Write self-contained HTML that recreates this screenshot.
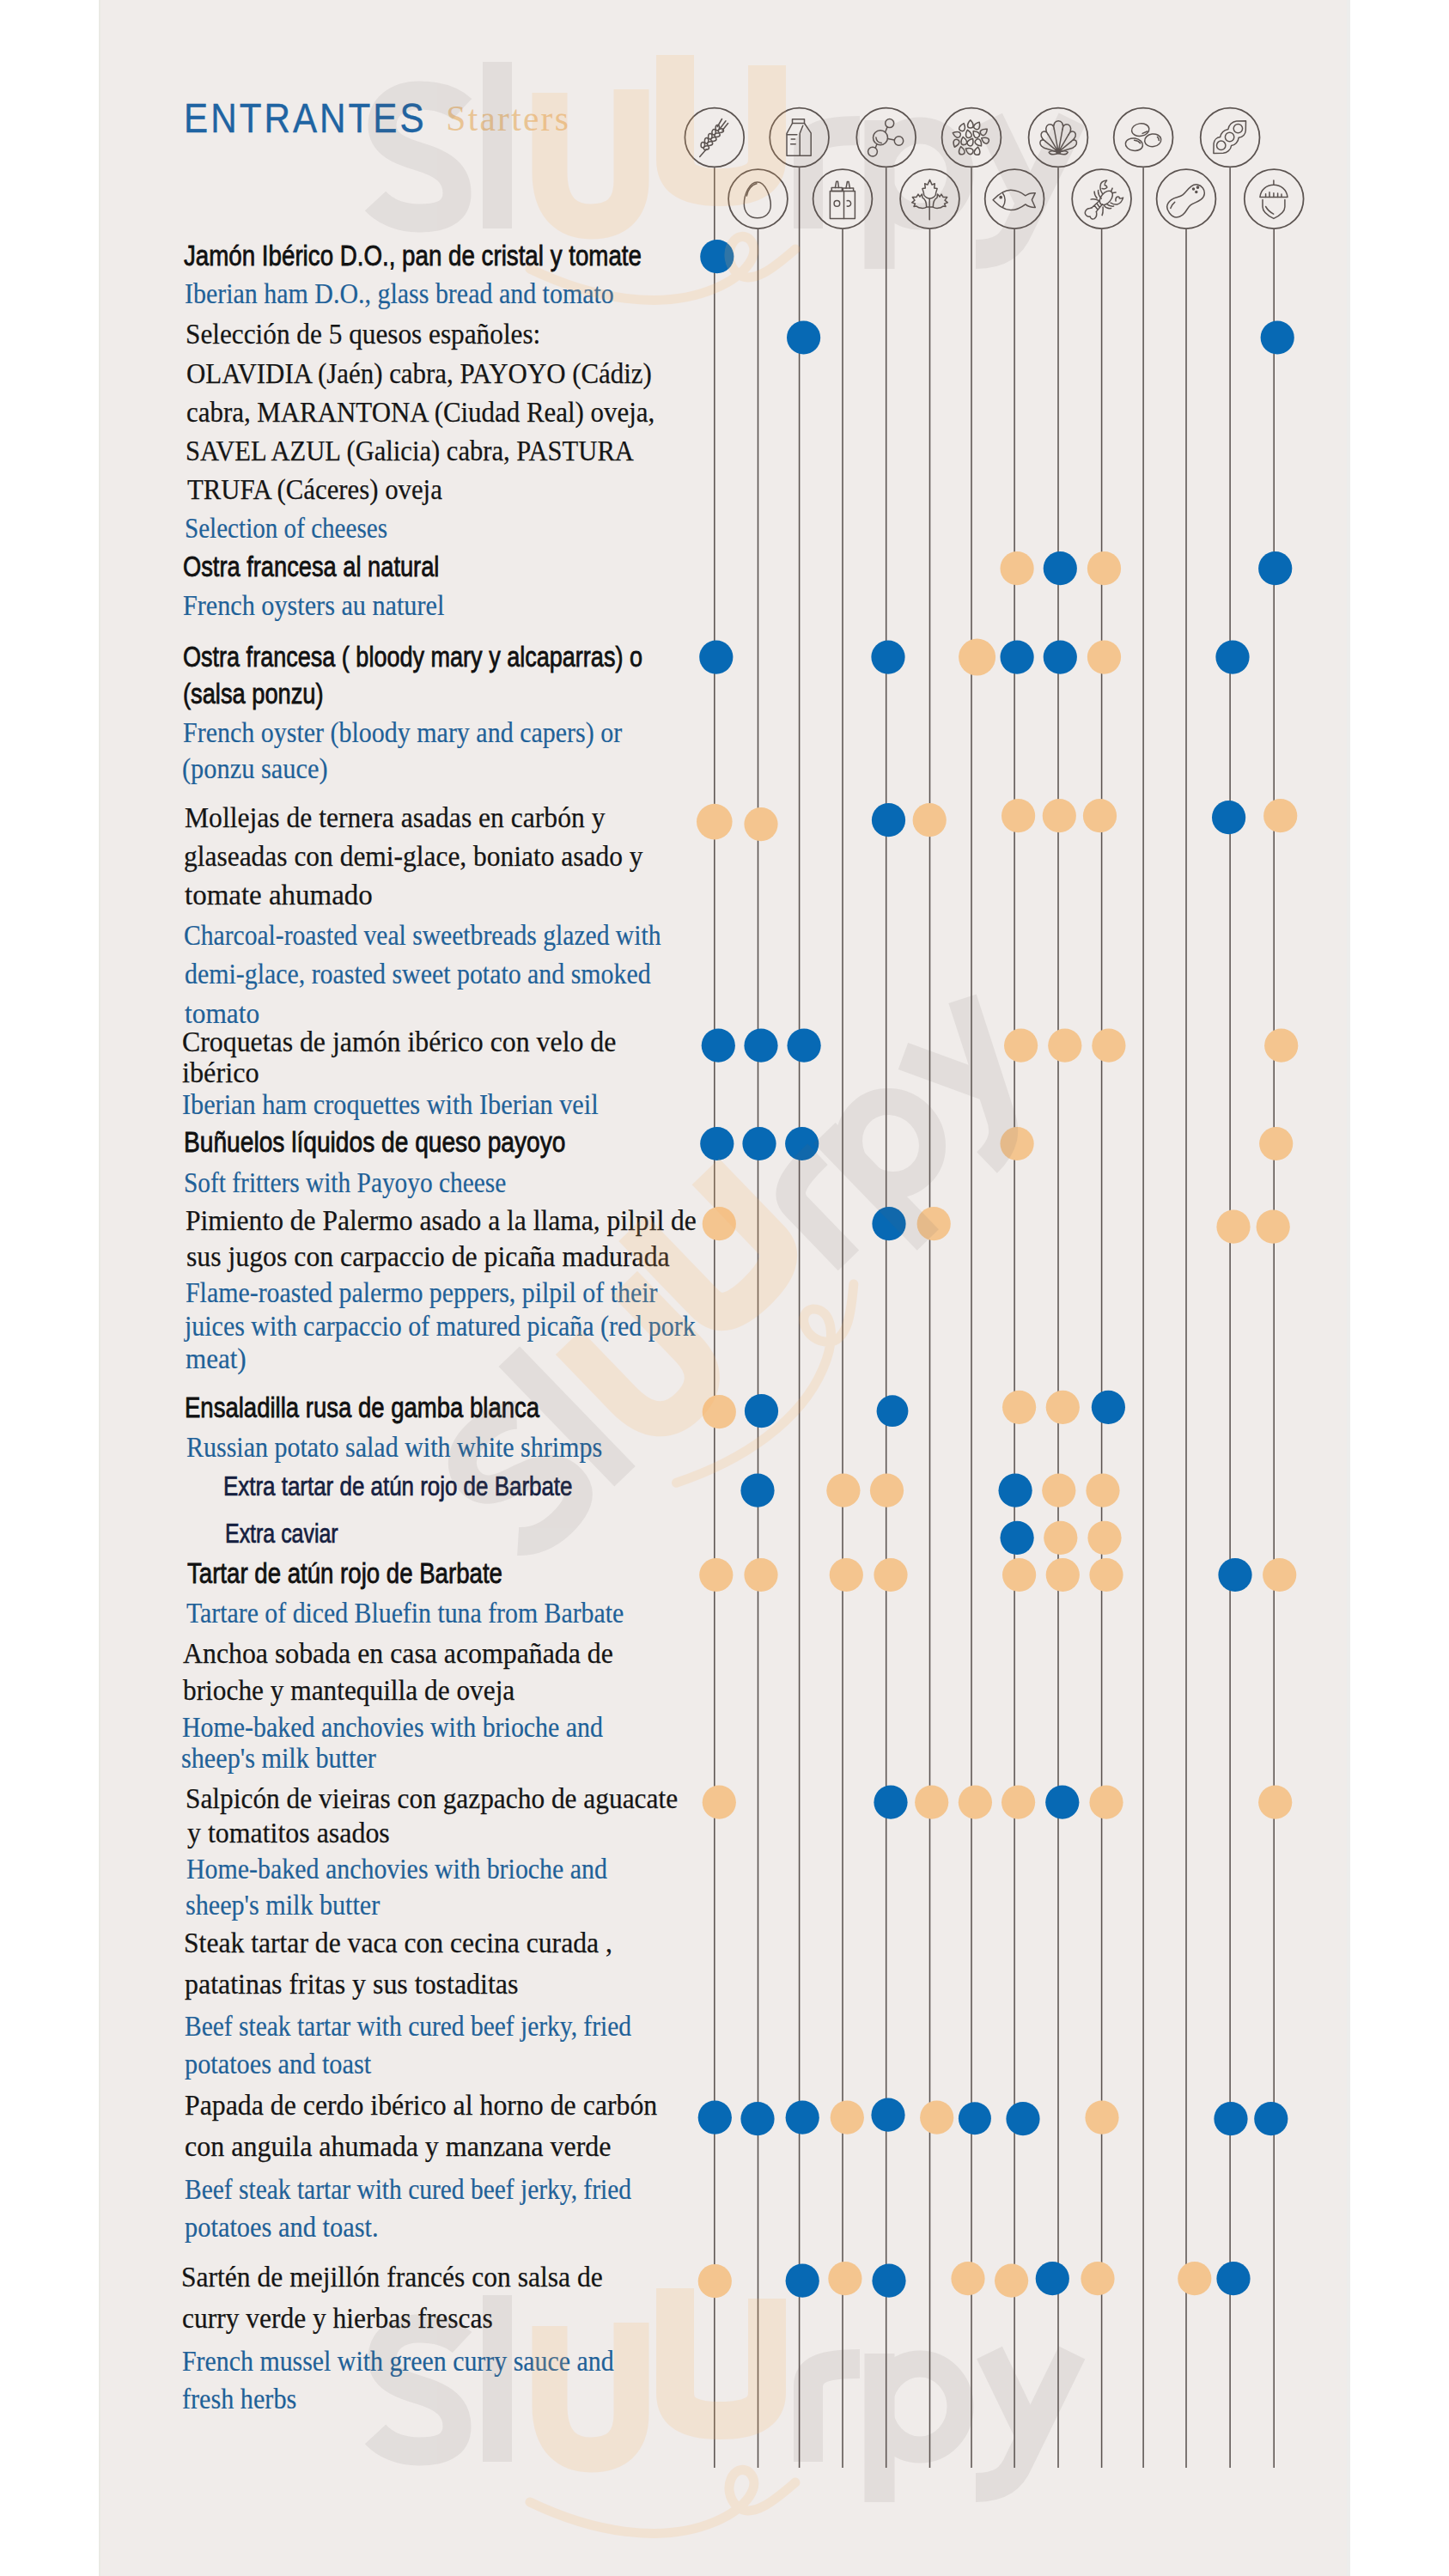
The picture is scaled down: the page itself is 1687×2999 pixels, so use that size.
<!DOCTYPE html><html><head><meta charset="utf-8"><style>
html,body{margin:0;padding:0;background:#fff;}
body{width:1687px;height:2999px;position:relative;overflow:hidden;}
#panel{position:absolute;left:115px;top:0;width:1457px;height:2999px;background:#f0ecea;}
.t{position:absolute;white-space:nowrap;transform-origin:0 0;}
.csans{font-family:"Liberation Sans",sans-serif;font-size:33.5px;line-height:33.5px;color:#111111;-webkit-text-stroke:0.8px #111111;}
.serif{font-family:"Liberation Serif",serif;font-size:34.0px;line-height:34.0px;color:#151515;-webkit-text-stroke:0.25px #151515;}
.bserif{font-family:"Liberation Serif",serif;font-size:33.5px;line-height:33.5px;color:#1f6198;-webkit-text-stroke:0.2px #1f6198;}
.navy{font-family:"Liberation Sans",sans-serif;font-size:31.0px;line-height:31.0px;color:#152040;-webkit-text-stroke:0.7px #152040;}
.title{font-family:"Liberation Sans",sans-serif;font-size:49.0px;line-height:49.0px;color:#1f64a2;-webkit-text-stroke:0.4px #1f64a2;}
.starters{font-family:"Liberation Serif",serif;font-size:41.5px;line-height:41.5px;color:#e9c494;}
</style></head><body><div id="panel"></div><div style="position:absolute;left:115px;top:0;width:2px;height:2999px;background:#e9e9e4"></div><div style="position:absolute;left:1568px;top:0;width:4px;height:2999px;background:#ededec"></div>
<svg width="1687" height="2999" style="position:absolute;left:0;top:0">
<g stroke="#5b5350" stroke-width="1.55" fill="none">
<line x1="831.8" y1="195.2" x2="831.8" y2="2873"/>
<line x1="882.5" y1="266.8" x2="882.5" y2="2873"/>
<line x1="930.6" y1="195.2" x2="930.6" y2="2873"/>
<line x1="981.0" y1="266.8" x2="981.0" y2="2873"/>
<line x1="1031.7" y1="195.2" x2="1031.7" y2="2873"/>
<line x1="1082.5" y1="266.8" x2="1082.5" y2="2873"/>
<line x1="1131.0" y1="195.2" x2="1131.0" y2="2873"/>
<line x1="1181.1" y1="266.8" x2="1181.1" y2="2873"/>
<line x1="1232.0" y1="195.2" x2="1232.0" y2="2873"/>
<line x1="1282.6" y1="266.8" x2="1282.6" y2="2873"/>
<line x1="1331.1" y1="195.2" x2="1331.1" y2="2873"/>
<line x1="1381.0" y1="266.8" x2="1381.0" y2="2873"/>
<line x1="1432.1" y1="195.2" x2="1432.1" y2="2873"/>
<line x1="1483.2" y1="266.8" x2="1483.2" y2="2873"/>
</g>
<g stroke="#5b5350" fill="none">
<circle cx="831.8" cy="160.0" r="34.4" stroke-width="1.75"/>
<g transform="translate(831.8,160.0)" stroke-width="1.5" stroke-linejoin="round" stroke-linecap="round"><path d="M-17.1,22.4 L-9.5,13.8"/><ellipse cx="-13.5" cy="8.8" rx="3.2" ry="2.2" transform="rotate(-85 -13.5 8.8)"/><ellipse cx="-9.5" cy="12.2" rx="3.2" ry="2.2" transform="rotate(-15 -9.5 12.2)"/><ellipse cx="-9.2" cy="3.8" rx="3.2" ry="2.2" transform="rotate(-85 -9.2 3.8)"/><ellipse cx="-5.3" cy="7.2" rx="3.2" ry="2.2" transform="rotate(-15 -5.3 7.2)"/><ellipse cx="-5.0" cy="-1.2" rx="3.2" ry="2.2" transform="rotate(-85 -5.0 -1.2)"/><ellipse cx="-1.0" cy="2.2" rx="3.2" ry="2.2" transform="rotate(-15 -1.0 2.2)"/><ellipse cx="-0.7" cy="-6.2" rx="3.2" ry="2.2" transform="rotate(-85 -0.7 -6.2)"/><ellipse cx="3.2" cy="-2.8" rx="3.2" ry="2.2" transform="rotate(-15 3.2 -2.8)"/><ellipse cx="3.5" cy="-11.2" rx="3.2" ry="2.2" transform="rotate(-85 3.5 -11.2)"/><ellipse cx="7.5" cy="-7.8" rx="3.2" ry="2.2" transform="rotate(-15 7.5 -7.8)"/><path d="M3.5,-12.5 L8.7,-21.5"/><path d="M6.8,-10.8 L13.2,-19.2"/><path d="M9.2,-8.2 L15.8,-16.5"/></g>
<circle cx="882.5" cy="231.6" r="34.4" stroke-width="1.75"/>
<g transform="translate(882.5,231.6)" stroke-width="1.5" stroke-linejoin="round" stroke-linecap="round"><path d="M-0.7,-19.5 C8.5,-19.5 14.8,-3 14.8,7.5 C14.8,17 8,22.1 -0.7,22.1 C-10,22.1 -16.2,16 -16.2,6 C-16.2,-5 -10,-19.5 -0.7,-19.5 Z"/><path d="M-13.2,-3.5 C-12,-11 -7,-16.8 -1.5,-17.8"/></g>
<circle cx="930.6" cy="160.0" r="34.4" stroke-width="1.75"/>
<g transform="translate(930.6,160.0)" stroke-width="1.5" stroke-linejoin="round" stroke-linecap="round"><rect x="-8.1" y="-21.3" width="14" height="4.8"/><path d="M-8.1,-16.5 L-14.6,-4.7 L-14.6,21.2 L13.6,21.2 L13.6,-5.2 L5.9,-16.5"/><path d="M0.6,21.2 L0.6,-4.7 L4.2,-13.8"/><path d="M-14.3,-3.3 L-2.7,-3.3"/><path d="M-9.4,2.1 L-5,2.1"/><path d="M-10,7.8 L-4.4,7.8"/></g>
<circle cx="981.0" cy="231.6" r="34.4" stroke-width="1.75"/>
<g transform="translate(981.0,231.6)" stroke-width="1.5" stroke-linejoin="round" stroke-linecap="round"><rect x="-14.6" y="-9.2" width="16.1" height="32.1"/><rect x="-12.8" y="-13.1" width="12.2" height="3.9"/><path d="M-8.6,-13.1 L-7.3,-20.3 L-5.5,-20.3 L-4.5,-13.1"/><path d="M1.5,-9.2 L14.4,-9.2 L14.4,22.9 L1.5,22.9"/><path d="M0.4,-9.2 L0.4,-12.5 L12.6,-12.5 L12.6,-9.2"/><path d="M4,-12.5 L5.4,-20.1 L7,-20.1 L8.5,-12.5"/><circle cx="-6.6" cy="5.3" r="3.3"/><path d="M5.2,2.2 A3.3,3.3 0 1 1 5.2,8.4"/></g>
<circle cx="1031.7" cy="160.0" r="34.4" stroke-width="1.75"/>
<g transform="translate(1031.7,160.0)" stroke-width="1.5" stroke-linejoin="round" stroke-linecap="round"><circle cx="-6.7" cy="0.2" r="8.5"/><circle cx="4" cy="-16.4" r="5"/><circle cx="14.8" cy="4" r="5.2"/><circle cx="-15.7" cy="16.6" r="5.4"/><path d="M-1,-6.2 L1.3,-12"/><path d="M1.9,1.5 L9.6,3.1"/><path d="M-10.8,7.8 L-12.5,12.2"/><path d="M-11.8,0 C-11.5,3.5 -9,6 -5.5,6.4"/></g>
<circle cx="1082.5" cy="231.6" r="34.4" stroke-width="1.75"/>
<g transform="translate(1082.5,231.6)" stroke-width="1.5" stroke-linejoin="round" stroke-linecap="round"><path d="M0,-22.2 L2.6,-16.5 L5.8,-17.8 L5.2,-12.5 L8.6,-12 L7.2,-7.5 C7.5,-3.5 4,-0.8 0,-0.4 C-4,-0.8 -7.5,-3.5 -7.2,-7.5 L-8.6,-12 L-5.2,-12.5 L-5.8,-17.8 L-2.6,-16.5 Z"/><path d="M-3.8,9.5 C-7,11.5 -12,11.2 -15.5,8.5 L-18.5,8.8 L-17,5.5 L-20.8,4.2 L-17.5,1.5 L-20.2,-2 L-15.5,-2.2 L-13.5,-5.5 L-11.5,-2.5 L-9,-5.5 L-8.5,-1.5 C-5.5,0 -3.8,3 -3.8,9.5 Z"/><path transform="scale(-1,1)" d="M-3.8,9.5 C-7,11.5 -12,11.2 -15.5,8.5 L-18.5,8.8 L-17,5.5 L-20.8,4.2 L-17.5,1.5 L-20.2,-2 L-15.5,-2.2 L-13.5,-5.5 L-11.5,-2.5 L-9,-5.5 L-8.5,-1.5 C-5.5,0 -3.8,3 -3.8,9.5 Z"/><path d="M-0.3,-0.4 L-0.3,24.2"/><path d="M-0.3,9.5 L-3.8,9.5"/><path d="M-0.3,9.5 L3.8,9.5"/></g>
<circle cx="1131.0" cy="160.0" r="34.4" stroke-width="1.75"/>
<g transform="translate(1131.0,160.0)" stroke-width="1.5" stroke-linejoin="round" stroke-linecap="round"><path transform="translate(-10.5,-11.9) rotate(20)" d="M0,-4.8 C2.2,-2.5 3.3,-0.5 3.3,1.4 C3.3,3.4 1.8,4.5 0,4.5 C-1.8,4.5 -3.3,3.4 -3.3,1.4 C-3.3,-0.5 -2.2,-2.5 0,-4.8 Z"/><path transform="translate(-1.2,-15.5) rotate(0)" d="M0,-4.8 C2.2,-2.5 3.3,-0.5 3.3,1.4 C3.3,3.4 1.8,4.5 0,4.5 C-1.8,4.5 -3.3,3.4 -3.3,1.4 C-3.3,-0.5 -2.2,-2.5 0,-4.8 Z"/><path transform="translate(6.8,-13.7) rotate(30)" d="M0,-4.8 C2.2,-2.5 3.3,-0.5 3.3,1.4 C3.3,3.4 1.8,4.5 0,4.5 C-1.8,4.5 -3.3,3.4 -3.3,1.4 C-3.3,-0.5 -2.2,-2.5 0,-4.8 Z"/><path transform="translate(-17.2,-3.6) rotate(-70)" d="M0,-4.8 C2.2,-2.5 3.3,-0.5 3.3,1.4 C3.3,3.4 1.8,4.5 0,4.5 C-1.8,4.5 -3.3,3.4 -3.3,1.4 C-3.3,-0.5 -2.2,-2.5 0,-4.8 Z"/><path transform="translate(-3.5,-4.1) rotate(-15)" d="M0,-4.8 C2.2,-2.5 3.3,-0.5 3.3,1.4 C3.3,3.4 1.8,4.5 0,4.5 C-1.8,4.5 -3.3,3.4 -3.3,1.4 C-3.3,-0.5 -2.2,-2.5 0,-4.8 Z"/><path transform="translate(5.3,-3.9) rotate(-40)" d="M0,-4.8 C2.2,-2.5 3.3,-0.5 3.3,1.4 C3.3,3.4 1.8,4.5 0,4.5 C-1.8,4.5 -3.3,3.4 -3.3,1.4 C-3.3,-0.5 -2.2,-2.5 0,-4.8 Z"/><path transform="translate(14.6,-6.7) rotate(50)" d="M0,-4.8 C2.2,-2.5 3.3,-0.5 3.3,1.4 C3.3,3.4 1.8,4.5 0,4.5 C-1.8,4.5 -3.3,3.4 -3.3,1.4 C-3.3,-0.5 -2.2,-2.5 0,-4.8 Z"/><path transform="translate(-18,6.7) rotate(200)" d="M0,-4.8 C2.2,-2.5 3.3,-0.5 3.3,1.4 C3.3,3.4 1.8,4.5 0,4.5 C-1.8,4.5 -3.3,3.4 -3.3,1.4 C-3.3,-0.5 -2.2,-2.5 0,-4.8 Z"/><path transform="translate(-9,4.1) rotate(-10)" d="M0,-4.8 C2.2,-2.5 3.3,-0.5 3.3,1.4 C3.3,3.4 1.8,4.5 0,4.5 C-1.8,4.5 -3.3,3.4 -3.3,1.4 C-3.3,-0.5 -2.2,-2.5 0,-4.8 Z"/><path transform="translate(-0.9,5.4) rotate(30)" d="M0,-4.8 C2.2,-2.5 3.3,-0.5 3.3,1.4 C3.3,3.4 1.8,4.5 0,4.5 C-1.8,4.5 -3.3,3.4 -3.3,1.4 C-3.3,-0.5 -2.2,-2.5 0,-4.8 Z"/><path transform="translate(8.4,6.2) rotate(140)" d="M0,-4.8 C2.2,-2.5 3.3,-0.5 3.3,1.4 C3.3,3.4 1.8,4.5 0,4.5 C-1.8,4.5 -3.3,3.4 -3.3,1.4 C-3.3,-0.5 -2.2,-2.5 0,-4.8 Z"/><path transform="translate(15.9,3.1) rotate(-60)" d="M0,-4.8 C2.2,-2.5 3.3,-0.5 3.3,1.4 C3.3,3.4 1.8,4.5 0,4.5 C-1.8,4.5 -3.3,3.4 -3.3,1.4 C-3.3,-0.5 -2.2,-2.5 0,-4.8 Z"/><path transform="translate(-11.5,15.3) rotate(-10)" d="M0,-4.8 C2.2,-2.5 3.3,-0.5 3.3,1.4 C3.3,3.4 1.8,4.5 0,4.5 C-1.8,4.5 -3.3,3.4 -3.3,1.4 C-3.3,-0.5 -2.2,-2.5 0,-4.8 Z"/><path transform="translate(-2.5,15.5) rotate(-60)" d="M0,-4.8 C2.2,-2.5 3.3,-0.5 3.3,1.4 C3.3,3.4 1.8,4.5 0,4.5 C-1.8,4.5 -3.3,3.4 -3.3,1.4 C-3.3,-0.5 -2.2,-2.5 0,-4.8 Z"/><path transform="translate(6.8,15.8) rotate(10)" d="M0,-4.8 C2.2,-2.5 3.3,-0.5 3.3,1.4 C3.3,3.4 1.8,4.5 0,4.5 C-1.8,4.5 -3.3,3.4 -3.3,1.4 C-3.3,-0.5 -2.2,-2.5 0,-4.8 Z"/></g>
<circle cx="1181.1" cy="231.6" r="34.4" stroke-width="1.75"/>
<g transform="translate(1181.1,231.6)" stroke-width="1.5" stroke-linejoin="round" stroke-linecap="round"><path d="M-25,1.1 C-18,-6 -12,-10.3 -4.5,-10.3 C3,-10.3 8,-7.5 12.8,-3.8 C16,-6.5 20,-7.2 24.2,-6.9 L20.3,1.1 L24.2,9.9 C20,10 16,9 12.8,6.3 C8,10 3,13 -4.5,13 C-12,13 -18,8 -25,1.1 Z"/><path d="M-13.9,-7.1 C-11.6,-4 -11,-1.5 -11,1.1 C-11,4 -11.8,6.8 -13.6,9.4"/><circle cx="-15.9" cy="-1.9" r="1.1" fill="#5b5350"/></g>
<circle cx="1232.0" cy="160.0" r="34.4" stroke-width="1.75"/>
<g transform="translate(1232.0,160.0)" stroke-width="1.5" stroke-linejoin="round" stroke-linecap="round"><path d="M0.2,17.1 L-12.30,13.52 C-26.66,10.40 -20.47,-1.32 -14.88,4.58 C-26.18,-3.29 -15.60,-12.25 -11.71,-3.28 C-20.03,-14.90 -5.26,-20.36 -4.59,-9.27 C-8.47,-22.65 8.87,-22.65 4.99,-9.27 C5.66,-20.36 20.43,-14.90 12.11,-3.28 C16.00,-12.25 26.58,-3.29 15.28,4.58 C20.87,-1.32 27.06,10.40 12.70,13.52 L0.2,17.1 Z"/><path d="M0.2,17.1 L-14.88,4.58 M0.2,17.1 L-11.71,-3.28 M0.2,17.1 L-4.59,-9.27 M0.2,17.1 L4.99,-9.27 M0.2,17.1 L12.11,-3.28 M0.2,17.1 L15.28,4.58 "/><path d="M-2.5,16.5 C-6,15.5 -9.5,15.8 -10.8,17.3 C-9.5,19.6 -5.5,20.2 -1.5,19 M2.9,16.5 C6.4,15.5 9.9,15.8 11.2,17.3 C9.9,19.6 5.9,20.2 1.9,19"/><ellipse cx="0.2" cy="16.3" rx="2.3" ry="2.8" fill="#5b5350"/></g>
<circle cx="1282.6" cy="231.6" r="34.4" stroke-width="1.75"/>
<g transform="translate(1282.6,231.6)" stroke-width="1.5" stroke-linejoin="round" stroke-linecap="round"><ellipse cx="5.2" cy="-1.2" rx="9.5" ry="5.8" transform="rotate(-50 5.2 -1.2)"/><path d="M-2.6,2.2 L-11.4,10.1 M0.8,6.2 L-6.2,14.8 M-5.6,5.2 L-2.4,9.8 M-8.4,7.6 L-4.6,12.4"/><path d="M-6.2,14.8 C-5.5,18 -6,21.5 -8.5,23 C-11,24.2 -13,22.5 -13.5,20.5 C-16,21 -19,19.5 -19.3,16.5 C-19.5,13.5 -17,11 -14,10.8 C-13,10.6 -12,10.3 -11.4,10.1"/><path d="M1,-6 C-1,-9 -2,-13 -1.5,-15.5 C-1.2,-19 1,-21 6,-21.5 C4.5,-19.5 3,-18 3.5,-16 C5,-15.5 6,-15.5 6.3,-13.5 C5,-11.5 2.5,-11.5 0.5,-12"/><path d="M10.5,4.5 C13,6 15.5,6.8 18,6.3 C21.5,5.5 24,2 25,-1.5 C23,-0.5 21.5,0 20.5,-1 C21,-2.5 19.5,-3 18,-2.5 C16.5,-1.5 16,0.5 16.5,2.5"/><path d="M-3,2 C-6,0.5 -9,-0.5 -12.5,0.5 M-0.5,-0.5 C-3,-3.5 -4.5,-6 -4,-10 M-5.5,-1 C-7.5,-3 -8.5,-5.5 -8.5,-8.5"/><path d="M3,8 C5,10.5 8,11.5 11,11 M1.5,9.5 C1.5,13 2,15.5 0.5,19 M6,6 C8.5,8 11,9 14,8.5"/><path d="M11,-9 L12.5,-12.5 M13,-7 L16.5,-7.5"/></g>
<circle cx="1331.1" cy="160.0" r="34.4" stroke-width="1.75"/>
<g transform="translate(1331.1,160.0)" stroke-width="1.5" stroke-linejoin="round" stroke-linecap="round"><ellipse cx="-3.4" cy="-8.9" rx="10.2" ry="7.3" transform="rotate(-8 -3.4 -8.9)"/><ellipse cx="-10.7" cy="8.2" rx="10.1" ry="7.2" transform="rotate(8 -10.7 8.2)"/><ellipse cx="11.1" cy="3.3" rx="9.6" ry="7.3" transform="rotate(-8 11.1 3.3)"/><path d="M-1,-4.6 L4.5,-7"/><path d="M-10.5,3.3 C-7.5,3.6 -5,4.7 -3.5,6.8"/><path d="M16.4,-0.6 C17.7,0.6 18.2,2 18.2,3.5"/></g>
<circle cx="1381.0" cy="231.6" r="34.4" stroke-width="1.75"/>
<g transform="translate(1381.0,231.6)" stroke-width="1.5" stroke-linejoin="round" stroke-linecap="round"><path transform="translate(0.5,1.3) rotate(-37)" d="M-25,0 C-25,-8 -20,-11 -14,-11 C-8,-11 -5,-7.5 0,-7.5 C5,-7.5 8,-9.5 14,-9.5 C20,-9.5 23.5,-5 23.5,0 C23.5,5 20,9.5 14,9.5 C8,9.5 5,7.5 0,7.5 C-5,7.5 -8,11 -14,11 C-20,11 -25,8 -25,0 Z"/><path d="M-13.3,3.7 C-15.5,5.5 -17.2,8 -18.2,10.8"/><circle cx="8.5" cy="-11.5" r="1" fill="#5b5350"/><circle cx="13.5" cy="-13.5" r="1.1" fill="#5b5350"/><circle cx="11.8" cy="-8.2" r="1" fill="#5b5350"/></g>
<circle cx="1432.1" cy="160.0" r="34.4" stroke-width="1.75"/>
<g transform="translate(1432.1,160.0)" stroke-width="1.5" stroke-linejoin="round" stroke-linecap="round"><path d="M-19.2,18.4 L-19,7 C-18.6,3 -15.5,0 -11.5,-0.5 C-10.5,-5 -7,-8.5 -2.2,-9.5 C-1.5,-14.5 2.5,-18.5 7.5,-19 L18.4,-19.2 L18.2,-8 C17.8,-3.5 14.8,-0.5 10,0.3 C9.5,5 6,8.8 1.5,9.5 C0.8,14.5 -3.5,18 -8,18.3 Z"/><circle cx="-10.4" cy="9.3" r="5.2"/><circle cx="-0.5" cy="-0.5" r="5.2"/><circle cx="9.3" cy="-10.4" r="5.2"/></g>
<circle cx="1483.2" cy="231.6" r="34.4" stroke-width="1.75"/>
<g transform="translate(1483.2,231.6)" stroke-width="1.5" stroke-linejoin="round" stroke-linecap="round"><path d="M-0.3,-21.7 L-0.3,-16.3"/><path d="M-16.3,-2 C-15.5,-11 -8.5,-16.3 -0.3,-16.3 C8,-16.3 15,-11 15.8,-2 Z"/><path d="M-9.6,-2 L-9.6,-5.8 M-5.2,-2 L-5.2,-7.8 M-0.3,-2 L-0.3,-6.8 M4.4,-2 L4.4,-6.5 M8.8,-2 L8.8,-5.5"/><path d="M-13.2,0.8 L-13.2,9.1 C-13.2,15 -7,19.5 -0.3,22.8 C6.5,19.5 12.7,15 12.7,9.1 L12.7,0.8"/><path d="M-9.6,8.9 C-7.5,12.5 -4.5,15.5 -0.5,17.5"/></g>
</g>
<circle cx="834.8" cy="298.7" r="19.6" fill="#0769b4"/>
<circle cx="935.6" cy="393" r="19.6" fill="#0769b4"/>
<circle cx="1487.2" cy="393" r="19.6" fill="#0769b4"/>
<circle cx="1184.1" cy="661.7" r="19.6" fill="#f4c58f"/>
<circle cx="1234.3" cy="661.7" r="19.6" fill="#0769b4"/>
<circle cx="1285.5" cy="661.7" r="19.6" fill="#f4c58f"/>
<circle cx="1484.7" cy="661.7" r="19.6" fill="#0769b4"/>
<circle cx="833.8" cy="765.1" r="19.6" fill="#0769b4"/>
<circle cx="1034" cy="765.1" r="19.6" fill="#0769b4"/>
<circle cx="1137.6" cy="765.1" r="21.5" fill="#f4c58f"/>
<circle cx="1184.1" cy="765.1" r="19.6" fill="#0769b4"/>
<circle cx="1234.3" cy="765.1" r="19.6" fill="#0769b4"/>
<circle cx="1285.5" cy="765.1" r="19.6" fill="#f4c58f"/>
<circle cx="1435" cy="765.1" r="19.6" fill="#0769b4"/>
<circle cx="831.8" cy="956.6" r="20.8" fill="#f4c58f"/>
<circle cx="886" cy="959.6" r="19.6" fill="#f4c58f"/>
<circle cx="1034.5" cy="954.7" r="19.6" fill="#0769b4"/>
<circle cx="1082.2" cy="954.7" r="19.6" fill="#f4c58f"/>
<circle cx="1185.6" cy="949.7" r="19.6" fill="#f4c58f"/>
<circle cx="1233.3" cy="949.7" r="19.6" fill="#f4c58f"/>
<circle cx="1280.5" cy="949.7" r="19.6" fill="#f4c58f"/>
<circle cx="1430.6" cy="951.7" r="19.6" fill="#0769b4"/>
<circle cx="1490.7" cy="949.7" r="19.6" fill="#f4c58f"/>
<circle cx="836.3" cy="1217.2" r="19.6" fill="#0769b4"/>
<circle cx="886" cy="1217.2" r="19.6" fill="#0769b4"/>
<circle cx="936.1" cy="1217.2" r="19.6" fill="#0769b4"/>
<circle cx="1188.6" cy="1217.2" r="19.6" fill="#f4c58f"/>
<circle cx="1239.8" cy="1217.2" r="19.6" fill="#f4c58f"/>
<circle cx="1290.9" cy="1217.2" r="19.6" fill="#f4c58f"/>
<circle cx="1491.7" cy="1217.2" r="19.6" fill="#f4c58f"/>
<circle cx="834.8" cy="1331.5" r="19.6" fill="#0769b4"/>
<circle cx="884" cy="1331.5" r="19.6" fill="#0769b4"/>
<circle cx="933.7" cy="1331.5" r="19.6" fill="#0769b4"/>
<circle cx="1184.1" cy="1331.5" r="19.6" fill="#f4c58f"/>
<circle cx="1485.7" cy="1331.5" r="19.6" fill="#f4c58f"/>
<circle cx="837.3" cy="1424.7" r="19.6" fill="#f4c58f"/>
<circle cx="1035" cy="1424.7" r="19.6" fill="#0769b4"/>
<circle cx="1087.2" cy="1424.7" r="19.6" fill="#f4c58f"/>
<circle cx="1436" cy="1428.2" r="19.6" fill="#f4c58f"/>
<circle cx="1482.2" cy="1428.2" r="19.6" fill="#f4c58f"/>
<circle cx="837.3" cy="1643.7" r="19.6" fill="#f4c58f"/>
<circle cx="886.5" cy="1642.7" r="19.6" fill="#0769b4"/>
<circle cx="1039" cy="1642.7" r="18.4" fill="#0769b4"/>
<circle cx="1186.6" cy="1638.3" r="19.6" fill="#f4c58f"/>
<circle cx="1237.3" cy="1638.3" r="19.6" fill="#f4c58f"/>
<circle cx="1290.4" cy="1638.3" r="19.6" fill="#0769b4"/>
<circle cx="882" cy="1735.2" r="19.6" fill="#0769b4"/>
<circle cx="981.9" cy="1735.2" r="19.6" fill="#f4c58f"/>
<circle cx="1032.5" cy="1735.2" r="19.6" fill="#f4c58f"/>
<circle cx="1182.1" cy="1735.2" r="19.6" fill="#0769b4"/>
<circle cx="1232.8" cy="1735.2" r="19.6" fill="#f4c58f"/>
<circle cx="1284" cy="1735.2" r="19.6" fill="#f4c58f"/>
<circle cx="1184.1" cy="1790.3" r="19.6" fill="#0769b4"/>
<circle cx="1234.8" cy="1790.3" r="19.6" fill="#f4c58f"/>
<circle cx="1286" cy="1790.3" r="19.6" fill="#f4c58f"/>
<circle cx="833.8" cy="1833.5" r="19.6" fill="#f4c58f"/>
<circle cx="886" cy="1833.5" r="19.6" fill="#f4c58f"/>
<circle cx="985.3" cy="1833.5" r="19.6" fill="#f4c58f"/>
<circle cx="1037" cy="1833.5" r="19.6" fill="#f4c58f"/>
<circle cx="1186.6" cy="1833.5" r="19.6" fill="#f4c58f"/>
<circle cx="1237.3" cy="1833.5" r="19.6" fill="#f4c58f"/>
<circle cx="1288" cy="1833.5" r="19.6" fill="#f4c58f"/>
<circle cx="1438" cy="1833.5" r="19.6" fill="#0769b4"/>
<circle cx="1489.7" cy="1833.5" r="19.6" fill="#f4c58f"/>
<circle cx="837.3" cy="2098.2" r="19.6" fill="#f4c58f"/>
<circle cx="1037" cy="2098.2" r="19.6" fill="#0769b4"/>
<circle cx="1084.7" cy="2098.2" r="19.6" fill="#f4c58f"/>
<circle cx="1135.4" cy="2098.2" r="19.6" fill="#f4c58f"/>
<circle cx="1185.6" cy="2098.2" r="19.6" fill="#f4c58f"/>
<circle cx="1236.8" cy="2098.2" r="19.6" fill="#0769b4"/>
<circle cx="1288" cy="2098.2" r="19.6" fill="#f4c58f"/>
<circle cx="1484.7" cy="2098.2" r="19.6" fill="#f4c58f"/>
<circle cx="832.3" cy="2465.2" r="19.6" fill="#0769b4"/>
<circle cx="882" cy="2466.7" r="19.6" fill="#0769b4"/>
<circle cx="934.2" cy="2465.2" r="19.6" fill="#0769b4"/>
<circle cx="986.3" cy="2465.2" r="19.6" fill="#f4c58f"/>
<circle cx="1034" cy="2462.2" r="19.6" fill="#0769b4"/>
<circle cx="1090.7" cy="2465.2" r="19.6" fill="#f4c58f"/>
<circle cx="1134.9" cy="2466.2" r="19" fill="#0769b4"/>
<circle cx="1191" cy="2466.7" r="19.6" fill="#0769b4"/>
<circle cx="1283" cy="2465.2" r="19.6" fill="#f4c58f"/>
<circle cx="1433" cy="2466.7" r="19.6" fill="#0769b4"/>
<circle cx="1479.8" cy="2466.7" r="19.6" fill="#0769b4"/>
<circle cx="832.3" cy="2655.7" r="19.6" fill="#f4c58f"/>
<circle cx="934.2" cy="2655.2" r="19.6" fill="#0769b4"/>
<circle cx="983.9" cy="2652.7" r="19.6" fill="#f4c58f"/>
<circle cx="1035" cy="2655.2" r="19.6" fill="#0769b4"/>
<circle cx="1127" cy="2652.7" r="19.6" fill="#f4c58f"/>
<circle cx="1177.6" cy="2655.2" r="19.6" fill="#f4c58f"/>
<circle cx="1225.3" cy="2652.7" r="19.6" fill="#0769b4"/>
<circle cx="1278" cy="2652.7" r="19.6" fill="#f4c58f"/>
<circle cx="1390.8" cy="2652.7" r="19.6" fill="#f4c58f"/>
<circle cx="1436" cy="2652.7" r="19.6" fill="#0769b4"/>
</svg><div class="t title" style="left:213.9px;top:112.7px;letter-spacing:3.54px;transform:scaleX(0.8600)">ENTRANTES</div>
<div class="t starters" style="left:519.3px;top:118.2px;letter-spacing:2.25px;transform:scaleX(1.0000)">Starters</div>
<div class="t csans" style="left:214.0px;top:280.5px;transform:scaleX(0.8272)">Jamón Ibérico D.O., pan de cristal y tomate</div>
<div class="t bserif" style="left:214.9px;top:324.8px;transform:scaleX(0.8939)">Iberian ham D.O., glass bread and tomato</div>
<div class="t serif" style="left:215.8px;top:372.4px;transform:scaleX(0.9196)">Selección de 5 quesos españoles:</div>
<div class="t serif" style="left:216.7px;top:417.5px;transform:scaleX(0.9084)">OLAVIDIA (Jaén) cabra, PAYOYO (Cádiz)</div>
<div class="t serif" style="left:216.7px;top:462.5px;transform:scaleX(0.9088)">cabra, MARANTONA (Ciudad Real) oveja,</div>
<div class="t serif" style="left:215.8px;top:508.0px;transform:scaleX(0.8996)">SAVEL AZUL (Galicia) cabra, PASTURA</div>
<div class="t serif" style="left:218.4px;top:552.8px;transform:scaleX(0.9051)">TRUFA (Cáceres) oveja</div>
<div class="t bserif" style="left:214.9px;top:598.3px;transform:scaleX(0.8690)">Selection of cheeses</div>
<div class="t csans" style="left:213.2px;top:643.4px;transform:scaleX(0.8135)">Ostra francesa al natural</div>
<div class="t bserif" style="left:213.0px;top:687.7px;transform:scaleX(0.9011)">French oysters au naturel</div>
<div class="t csans" style="left:213.2px;top:747.8px;transform:scaleX(0.8071)">Ostra francesa ( bloody mary y alcaparras) o</div>
<div class="t csans" style="left:213.4px;top:791.0px;transform:scaleX(0.8134)">(salsa ponzu)</div>
<div class="t bserif" style="left:213.0px;top:835.5px;transform:scaleX(0.8949)">French oyster (bloody mary and capers) or</div>
<div class="t bserif" style="left:212.1px;top:877.7px;transform:scaleX(0.9070)">(ponzu sauce)</div>
<div class="t serif" style="left:214.8px;top:934.9px;transform:scaleX(0.9291)">Mollejas de ternera asadas en carbón y</div>
<div class="t serif" style="left:213.9px;top:980.4px;transform:scaleX(0.9251)">glaseadas con demi-glace, boniato asado y</div>
<div class="t serif" style="left:214.8px;top:1024.6px;transform:scaleX(0.9696)">tomate ahumado</div>
<div class="t bserif" style="left:213.9px;top:1072.3px;transform:scaleX(0.8834)">Charcoal-roasted veal sweetbreads glazed with</div>
<div class="t bserif" style="left:214.9px;top:1117.4px;transform:scaleX(0.8920)">demi-glace, roasted sweet potato and smoked</div>
<div class="t bserif" style="left:214.8px;top:1163.0px;transform:scaleX(0.9358)">tomato</div>
<div class="t serif" style="left:211.7px;top:1196.4px;transform:scaleX(0.9358)">Croquetas de jamón ibérico con velo de</div>
<div class="t serif" style="left:211.6px;top:1232.4px;transform:scaleX(0.9494)">ibérico</div>
<div class="t bserif" style="left:211.7px;top:1268.8px;transform:scaleX(0.9029)">Iberian ham croquettes with Iberian veil</div>
<div class="t csans" style="left:214.1px;top:1313.1px;transform:scaleX(0.8402)">Buñuelos líquidos de queso payoyo</div>
<div class="t bserif" style="left:214.0px;top:1359.9px;transform:scaleX(0.8770)">Soft fritters with Payoyo cheese</div>
<div class="t serif" style="left:216.4px;top:1404.2px;transform:scaleX(0.9278)">Pimiento de Palermo asado a la llama, pilpil de</div>
<div class="t serif" style="left:216.5px;top:1446.1px;transform:scaleX(0.9341)">sus jugos con carpaccio de picaña madurada</div>
<div class="t bserif" style="left:216.4px;top:1488.0px;transform:scaleX(0.8923)">Flame-roasted palermo peppers, pilpil of their</div>
<div class="t bserif" style="left:215.3px;top:1526.6px;transform:scaleX(0.8942)">juices with carpaccio of matured picaña (red pork</div>
<div class="t bserif" style="left:216.4px;top:1565.0px;transform:scaleX(0.9266)">meat)</div>
<div class="t csans" style="left:215.0px;top:1621.7px;transform:scaleX(0.8216)">Ensaladilla rusa de gamba blanca</div>
<div class="t bserif" style="left:216.6px;top:1668.0px;transform:scaleX(0.8955)">Russian potato salad with white shrimps</div>
<div class="t navy" style="left:259.7px;top:1714.8px;transform:scaleX(0.8365)">Extra tartar de atún rojo de Barbate</div>
<div class="t navy" style="left:262.2px;top:1770.3px;transform:scaleX(0.8045)">Extra caviar</div>
<div class="t csans" style="left:217.6px;top:1814.6px;transform:scaleX(0.8244)">Tartar de atún rojo de Barbate</div>
<div class="t bserif" style="left:217.4px;top:1861.0px;transform:scaleX(0.8894)">Tartare of diced Bluefin tuna from Barbate</div>
<div class="t serif" style="left:213.2px;top:1907.8px;transform:scaleX(0.9357)">Anchoa sobada en casa acompañada de</div>
<div class="t serif" style="left:213.2px;top:1950.9px;transform:scaleX(0.9215)">brioche y mantequilla de oveja</div>
<div class="t bserif" style="left:212.2px;top:1993.9px;transform:scaleX(0.8928)">Home-baked anchovies with brioche and</div>
<div class="t bserif" style="left:211.3px;top:2030.3px;transform:scaleX(0.9014)">sheep's milk butter</div>
<div class="t serif" style="left:215.8px;top:2076.7px;transform:scaleX(0.9226)">Salpicón de vieiras con gazpacho de aguacate</div>
<div class="t serif" style="left:217.6px;top:2117.3px;transform:scaleX(0.9385)">y tomatitos asados</div>
<div class="t bserif" style="left:216.6px;top:2158.7px;transform:scaleX(0.8928)">Home-baked anchovies with brioche and</div>
<div class="t bserif" style="left:215.7px;top:2200.9px;transform:scaleX(0.8990)">sheep's milk butter</div>
<div class="t serif" style="left:213.9px;top:2245.2px;transform:scaleX(0.9305)">Steak tartar de vaca con cecina curada ,</div>
<div class="t serif" style="left:214.8px;top:2292.8px;transform:scaleX(0.9390)">patatinas fritas y sus tostaditas</div>
<div class="t bserif" style="left:214.8px;top:2341.6px;transform:scaleX(0.8795)">Beef steak tartar with cured beef jerky, fried</div>
<div class="t bserif" style="left:214.8px;top:2385.5px;transform:scaleX(0.9048)">potatoes and toast</div>
<div class="t serif" style="left:214.8px;top:2433.9px;transform:scaleX(0.9355)">Papada de cerdo ibérico al horno de carbón</div>
<div class="t serif" style="left:214.9px;top:2481.5px;transform:scaleX(0.9410)">con anguila ahumada y manzana verde</div>
<div class="t bserif" style="left:214.8px;top:2531.6px;transform:scaleX(0.8795)">Beef steak tartar with cured beef jerky, fried</div>
<div class="t bserif" style="left:214.8px;top:2576.3px;transform:scaleX(0.9084)">potatoes and toast.</div>
<div class="t serif" style="left:211.3px;top:2634.3px;transform:scaleX(0.9281)">Sartén de mejillón francés con salsa de</div>
<div class="t serif" style="left:212.3px;top:2681.9px;transform:scaleX(0.9254)">curry verde y hierbas frescas</div>
<div class="t bserif" style="left:212.2px;top:2731.6px;transform:scaleX(0.8915)">French mussel with green curry sauce and</div>
<div class="t bserif" style="left:212.3px;top:2776.3px;transform:scaleX(0.9008)">fresh herbs</div>
<svg width="1687" height="2999" style="position:absolute;left:0;top:0"><g><g opacity="0.10"><path fill="none" stroke="rgb(110,100,96)" stroke-width="33" d="M538,2727 C524,2714 506,2711 488,2711 C462,2711 445,2725 445,2746 C445,2768 466,2776 490,2783 C516,2791 532,2802 532,2825 C532,2848 512,2854 488,2854 C466,2854 448,2846 437,2834"/><rect x="562" y="2672" width="34" height="194" fill="rgb(110,100,96)"/><path fill="none" stroke="rgb(110,100,96)" stroke-width="34" d="M941,2866 L941,2778 C941,2758 960,2752 1001,2752"/><path fill="none" stroke="rgb(110,100,96)" stroke-width="35" d="M1024,2913 L1024,2740"/><ellipse cx="1071" cy="2802" rx="47" ry="50" fill="none" stroke="rgb(110,100,96)" stroke-width="31"/><path fill="none" stroke="rgb(110,100,96)" stroke-width="33" d="M1152,2739 L1197,2832"/><path fill="none" stroke="rgb(110,100,96)" stroke-width="34" d="M1248,2739 L1186,2866 C1178,2885 1165,2896 1136,2896"/></g><g opacity="0.17"><path fill="none" stroke="rgb(250,178,100)" stroke-width="41" d="M640,2708 L640,2800 C640,2845 663,2858 688,2858 C716,2858 735,2845 735,2810 L735,2704"/><path fill="none" stroke="rgb(250,178,100)" stroke-width="44" d="M786,2664 L786,2785 C786,2810 805,2818 838,2818 C872,2818 893,2810 893,2785 L893,2676"/><path fill="none" stroke="rgb(250,178,100)" stroke-width="11" stroke-linecap="round" d="M617,2913 C690,2948 770,2962 832,2936 C870,2920 888,2893 872,2878 C855,2866 838,2898 858,2918 C876,2934 905,2908 926,2890"/></g></g><g transform="translate(0,-2600)"><g opacity="0.10"><path fill="none" stroke="rgb(110,100,96)" stroke-width="33" d="M538,2727 C524,2714 506,2711 488,2711 C462,2711 445,2725 445,2746 C445,2768 466,2776 490,2783 C516,2791 532,2802 532,2825 C532,2848 512,2854 488,2854 C466,2854 448,2846 437,2834"/><rect x="562" y="2672" width="34" height="194" fill="rgb(110,100,96)"/><path fill="none" stroke="rgb(110,100,96)" stroke-width="34" d="M941,2866 L941,2778 C941,2758 960,2752 1001,2752"/><path fill="none" stroke="rgb(110,100,96)" stroke-width="35" d="M1024,2913 L1024,2740"/><ellipse cx="1071" cy="2802" rx="47" ry="50" fill="none" stroke="rgb(110,100,96)" stroke-width="31"/><path fill="none" stroke="rgb(110,100,96)" stroke-width="33" d="M1152,2739 L1197,2832"/><path fill="none" stroke="rgb(110,100,96)" stroke-width="34" d="M1248,2739 L1186,2866 C1178,2885 1165,2896 1136,2896"/></g><g opacity="0.17"><path fill="none" stroke="rgb(250,178,100)" stroke-width="41" d="M640,2708 L640,2800 C640,2845 663,2858 688,2858 C716,2858 735,2845 735,2810 L735,2704"/><path fill="none" stroke="rgb(250,178,100)" stroke-width="44" d="M786,2664 L786,2785 C786,2810 805,2818 838,2818 C872,2818 893,2810 893,2785 L893,2676"/><path fill="none" stroke="rgb(250,178,100)" stroke-width="11" stroke-linecap="round" d="M617,2913 C690,2948 770,2962 832,2936 C870,2920 888,2893 872,2878 C855,2866 838,2898 858,2918 C876,2934 905,2908 926,2890"/></g></g><g transform="translate(1037,1331) rotate(-44) translate(-1071,-2802)"><g opacity="0.10"><path fill="none" stroke="rgb(110,100,96)" stroke-width="33" d="M538,2727 C524,2714 506,2711 488,2711 C462,2711 445,2725 445,2746 C445,2768 466,2776 490,2783 C516,2791 532,2802 532,2825 C532,2848 512,2854 488,2854 C466,2854 448,2846 437,2834"/><rect x="562" y="2672" width="34" height="194" fill="rgb(110,100,96)"/><path fill="none" stroke="rgb(110,100,96)" stroke-width="34" d="M941,2866 L941,2778 C941,2758 960,2752 1001,2752"/><path fill="none" stroke="rgb(110,100,96)" stroke-width="35" d="M1024,2913 L1024,2740"/><ellipse cx="1071" cy="2802" rx="47" ry="50" fill="none" stroke="rgb(110,100,96)" stroke-width="31"/><path fill="none" stroke="rgb(110,100,96)" stroke-width="33" d="M1152,2739 L1197,2832"/><path fill="none" stroke="rgb(110,100,96)" stroke-width="34" d="M1248,2739 L1186,2866 C1178,2885 1165,2896 1136,2896"/></g><g opacity="0.17"><path fill="none" stroke="rgb(250,178,100)" stroke-width="41" d="M640,2708 L640,2800 C640,2845 663,2858 688,2858 C716,2858 735,2845 735,2810 L735,2704"/><path fill="none" stroke="rgb(250,178,100)" stroke-width="44" d="M786,2664 L786,2785 C786,2810 805,2818 838,2818 C872,2818 893,2810 893,2785 L893,2676"/><path fill="none" stroke="rgb(250,178,100)" stroke-width="11" stroke-linecap="round" d="M617,2913 C690,2948 770,2962 832,2936 C870,2920 888,2893 872,2878 C855,2866 838,2898 858,2918 C876,2934 905,2908 926,2890"/></g></g></svg></body></html>
